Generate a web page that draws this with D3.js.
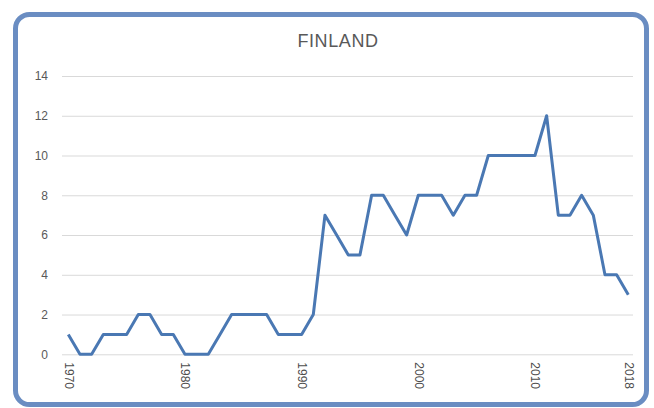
<!DOCTYPE html>
<html>
<head>
<meta charset="utf-8">
<script src="https://cdn.jsdelivr.net/npm/d3@7/dist/d3.min.js"></script>
<style>
  html, body { margin: 0; padding: 0; background: #fff; }
  svg { display: block; }
</style>
</head>
<body>
<svg id="chart" width="654" height="408"></svg>
<script>
const title = "FINLAND";
const years = d3.range(1970, 2019);
const values = [1,0,0,1,1,1,2,2,1,1,0,0,0,1,2,2,2,2,1,1,1,2,7,6,5,5,8,8,7,6,8,8,8,7,8,8,10,10,10,10,10,12,7,7,8,7,4,4,3];
const xTickLabels = [1970, 1980, 1990, 2000, 2010, 2018];
const yTicks = [0, 2, 4, 6, 8, 10, 12, 14];

const svg = d3.select("#chart");
const font = "'Liberation Sans', Arial, sans-serif";
const textColor = "#595959";

// frame
svg.append("rect")
  .attr("x", 15.5).attr("y", 14.5)
  .attr("width", 631).attr("height", 390)
  .attr("rx", 14).attr("ry", 14)
  .attr("fill", "#fff")
  .attr("stroke", "#6a8dc2")
  .attr("stroke-width", 5);

const x = d3.scaleLinear().domain([1970, 2018]).range([68.3, 628.3]);
const y = d3.scaleLinear().domain([0, 14]).range([354.3, 76]);

// gridlines
const yAxis = d3.axisLeft(y).tickValues(yTicks).tickSize(-(633 - 62)).tickPadding(14);
const gy = svg.append("g").attr("transform", "translate(62,0)").call(yAxis);
gy.select(".domain").remove();
gy.selectAll(".tick line").attr("stroke", "#d9d9d9").attr("stroke-width", 1);
gy.selectAll(".tick text")
  .attr("fill", textColor)
  .style("font-family", font)
  .style("font-size", "12px");

// x axis labels (rotated)
const xAxis = d3.axisBottom(x).tickValues(xTickLabels).tickFormat(d3.format("d")).tickSize(0);
const gx = svg.append("g").attr("transform", "translate(0,354.3)").call(xAxis);
gx.select(".domain").remove();
gx.selectAll(".tick text")
  .attr("fill", "#4d4d4d")
  .style("font-family", font)
  .style("font-size", "12px")
  .attr("text-anchor", "start")
  .attr("dy", null)
  .attr("y", 0)
  .attr("transform", "translate(-4,8) rotate(90)");

// line
const data = years.map((yr, i) => ({ yr, v: values[i] })).filter(d => d.v !== undefined);
svg.append("path")
  .datum(data)
  .attr("fill", "none")
  .attr("stroke", "#4a78b3")
  .attr("stroke-width", 3)
  .attr("stroke-linejoin", "round")
  .attr("d", d3.line().x(d => x(d.yr)).y(d => y(d.v)));

// title
svg.append("text")
  .attr("x", 338).attr("y", 47)
  .attr("text-anchor", "middle")
  .attr("fill", textColor)
  .style("font-family", font)
  .style("font-size", "18px")
  .style("letter-spacing", "0.6px")
  .text(title);
</script>
</body>
</html>
